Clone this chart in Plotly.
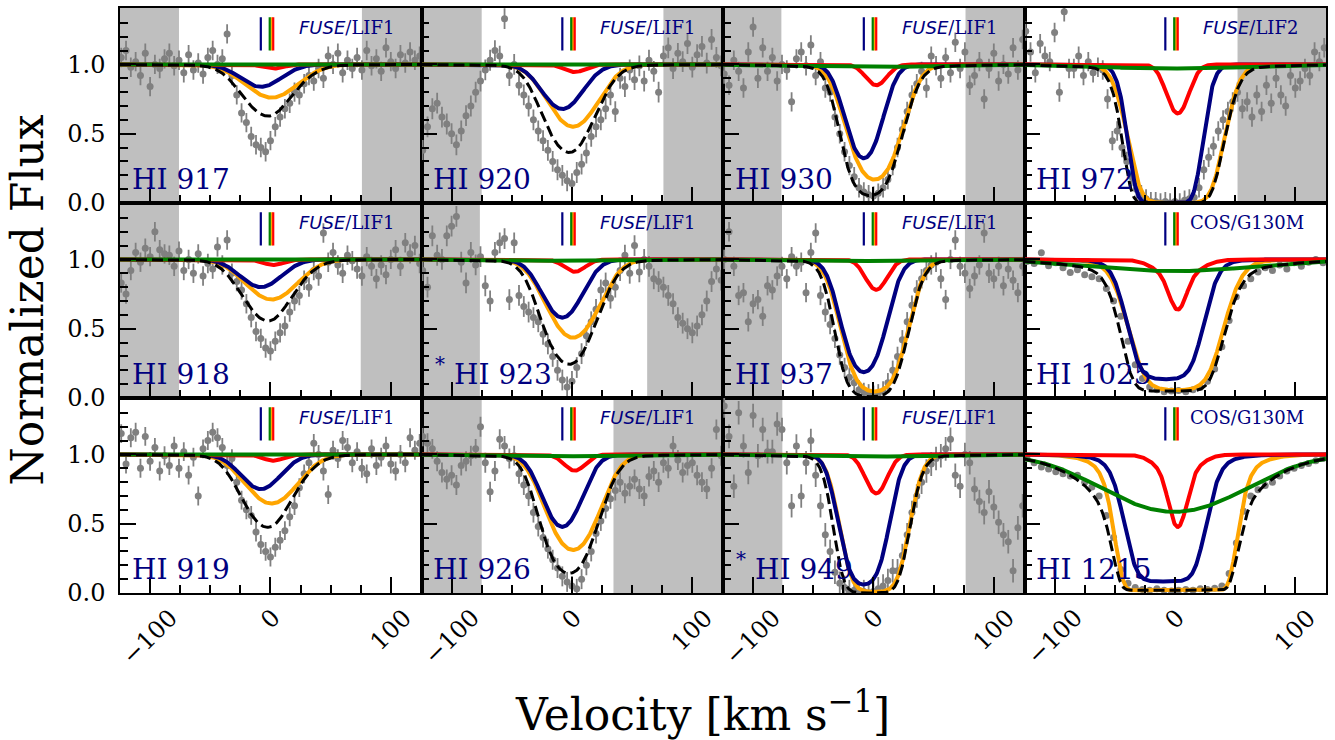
import numpy as np
import plotly.graph_objects as go
from plotly.subplots import make_subplots

# ---------------- panel metadata (row by row, 3 rows x 4 cols) ----------------
PANEL_LABELS = ["HI 917", "HI 920", "HI 930", "HI 972",
                "HI 918", "HI 923", "HI 937", "HI 1025",
                "HI 919", "HI 926", "HI 949", "HI 1215"]
PANEL_STAR = [0, 0, 0, 0, 0, 1, 0, 0, 0, 0, 1, 0]
PANEL_INSTR = ["FUSE/LIF1", "FUSE/LIF1", "FUSE/LIF1", "FUSE/LIF2",
               "FUSE/LIF1", "FUSE/LIF1", "FUSE/LIF1", "COS/G130M",
               "FUSE/LIF1", "FUSE/LIF1", "FUSE/LIF1", "COS/G130M"]
# excluded (shaded) velocity ranges
SHADE_LEFT_END = [-76, -75, -76.5, None, -76, -76.5, -76, None, None, -75, -75.7, None]
SHADE_RIGHT_START = [76, 76, 76.5, 52, 75, 62.5, 76, None, None, 34.5, 76.6, None]
FLUX_ERR = [0.07, 0.075, 0.07, 0.07, 0.07, 0.075, 0.07, 0.02, 0.068, 0.072, 0.085, 0.012]

# ---------------- velocity grids of the data ----------------
V_FUSE = list(range(-124, 125, 4))
V_COS = list(range(-123, 124, 6))

# ---------------- normalized flux data ----------------
FLUX_917 = [1.05, 1.10, 0.98, 1.02, 0.92, 1.08, 0.84, 1.00, 0.97, 1.04, 1.08, 0.99, 1.03, 0.94, 1.07, 0.96,
            1.01, 0.93, 1.05, 1.10, 1.00, 1.04, 1.22, 0.92, 0.78, 0.65, 0.58, 0.48, 0.42, 0.40, 0.37, 0.45,
            0.55, 0.62, 0.68, 0.72, 0.80, 0.78, 0.86, 0.92, 0.88, 0.97, 0.90, 1.06, 1.00, 1.08, 0.94, 1.03,
            0.97, 1.05, 0.96, 1.10, 0.99, 1.04, 0.95, 1.12, 1.02, 0.97, 1.07, 1.01, 1.09, 1.03, 1.06]
FLUX_918 = [0.83, 0.75, 0.92, 1.05, 0.98, 1.08, 1.02, 1.20, 1.07, 1.04, 1.03, 0.95, 1.06, 0.92, 1.00, 0.90,
            1.04, 0.88, 0.97, 0.93, 1.09, 0.96, 1.14, 0.90, 0.84, 0.78, 0.68, 0.58, 0.48, 0.43, 0.36, 0.34,
            0.41, 0.47, 0.52, 0.62, 0.70, 0.74, 0.85, 0.80, 0.92, 0.88, 1.19, 0.98, 1.05, 0.96, 0.90, 1.03,
            0.99, 0.93, 0.88, 1.02, 0.95, 0.86, 0.96, 0.89, 1.00, 1.07, 0.95, 1.12, 1.04, 1.10, 0.97]
FLUX_919 = [1.15, 0.93, 1.12, 1.16, 0.90, 1.13, 0.95, 1.05, 0.88, 0.99, 0.92, 1.06, 0.90, 1.02, 0.85, 0.98,
            0.70, 1.04, 1.10, 1.16, 1.12, 1.05, 0.92, 0.97, 0.80, 0.67, 0.60, 0.56, 0.44, 0.35, 0.30, 0.26,
            0.33, 0.38, 0.45, 0.55, 0.63, 0.76, 0.86, 0.94, 1.08, 1.00, 0.88, 0.71, 1.03, 0.97, 1.10, 1.05,
            0.94, 1.02, 0.90, 0.86, 1.04, 0.92, 0.98, 1.06, 0.93, 0.88, 1.00, 0.94, 1.12, 1.03, 1.08]
FLUX_920 = [0.38, 0.55, 0.68, 0.72, 0.62, 0.57, 0.50, 0.42, 0.52, 0.63, 0.70, 0.80, 0.88, 0.96, 1.03, 1.10,
            1.06, 1.33, 0.92, 1.00, 0.85, 0.78, 0.70, 0.60, 0.52, 0.45, 0.38, 0.30, 0.24, 0.20, 0.16, 0.14,
            0.22, 0.28, 0.36, 0.48, 0.55, 0.60, 0.68, 0.78, 0.66, 0.90, 0.84, 0.96, 0.89, 0.99, 0.88, 1.03,
            0.95, 0.80, 1.06, 1.12, 0.97, 1.08, 1.02, 1.15, 0.98, 1.07, 1.13, 1.01, 1.18, 1.05, 0.99]
FLUX_923 = [0.92, 0.80, 1.17, 1.03, 1.00, 1.17, 1.24, 1.31, 0.98, 0.83, 1.05, 0.96, 1.02, 0.81, 0.70, 1.05,
            1.12, 1.15, 0.71, 1.12, 0.74, 0.66, 0.62, 0.58, 0.55, 0.46, 0.39, 0.30, 0.20, 0.13, 0.08, 0.12,
            0.22, 0.32, 0.45, 0.55, 0.64, 0.78, 0.83, 0.72, 0.80, 0.92, 1.03, 0.90, 1.10, 0.91, 1.00, 0.95,
            0.86, 0.84, 0.80, 0.74, 0.68, 0.58, 0.54, 0.50, 0.47, 0.52, 0.60, 0.70, 0.84, 0.93, 0.85]
FLUX_926 = [1.13, 1.08, 1.04, 0.95, 0.87, 0.82, 0.85, 0.78, 0.92, 0.95, 0.99, 1.04, 1.20, 0.94, 0.73, 0.88,
            1.11, 1.06, 0.97, 0.99, 0.86, 0.78, 0.70, 0.58, 0.48, 0.40, 0.32, 0.24, 0.18, 0.12, 0.08, 0.05,
            0.03, 0.10, 0.20, 0.30, 0.43, 0.52, 0.61, 0.68, 0.74, 0.80, 0.72, 0.77, 0.82, 0.75, 0.70, 0.84,
            0.88, 0.80, 0.94, 0.90, 1.06, 0.96, 0.87, 0.92, 0.94, 0.85, 0.80, 0.75, 0.90, 1.18, 0.99]
FLUX_930 = [0.93, 0.85, 1.03, 0.95, 0.83, 1.09, 1.27, 0.90, 1.12, 0.95, 1.05, 0.88, 1.00, 0.96, 0.73, 1.04,
            1.09, 0.99, 1.14, 0.92, 1.02, 0.83, 0.80, 0.62, 0.50, 0.37, 0.27, 0.19, 0.11, 0.08, 0.06, 0.05,
            0.07, 0.11, 0.17, 0.27, 0.40, 0.53, 0.66, 0.78, 0.86, 0.95, 0.83, 1.06, 0.99, 0.90, 1.05, 0.94,
            1.16, 0.97, 1.09, 0.85, 0.92, 1.02, 0.75, 0.97, 1.08, 0.88, 1.00, 0.93, 1.12, 0.96, 1.18]
FLUX_937 = [1.00, 1.20, 0.95, 0.74, 0.76, 0.55, 0.68, 0.71, 0.59, 0.81, 0.78, 0.88, 0.95, 0.86, 1.02, 0.95,
            0.98, 0.76, 1.05, 1.19, 0.74, 0.62, 0.53, 0.43, 0.31, 0.22, 0.15, 0.11, 0.06, 0.04, 0.03, 0.02,
            0.03, 0.05, 0.11, 0.20, 0.30, 0.42, 0.55, 0.67, 0.78, 0.86, 0.92, 0.96, 0.98, 0.86, 0.71, 1.00,
            1.14, 0.95, 0.90, 0.79, 0.88, 0.96, 1.19, 0.90, 0.86, 0.95, 0.81, 0.93, 0.85, 0.76, 0.95]
FLUX_949 = [1.35, 1.13, 0.77, 1.30, 1.06, 0.87, 1.28, 0.99, 1.18, 1.02, 1.02, 1.22, 1.18, 0.94, 0.63, 1.06,
            0.70, 0.94, 1.10, 0.85, 0.63, 0.42, 0.30, 0.15, 0.07, 0.04, 0.01, 0.02, 0.00, 0.01, 0.00, 0.01,
            0.03, 0.05, 0.09, 0.16, 0.16, 0.27, 0.42, 0.58, 0.70, 0.80, 0.88, 0.93, 0.97, 0.99, 1.04, 1.11,
            0.85, 0.77, 1.00, 0.94, 0.75, 0.66, 0.58, 0.73, 0.62, 0.51, 0.42, 0.37, 0.16, 0.47, 0.63]
FLUX_972 = [1.24, 1.09, 0.94, 1.15, 1.06, 1.02, 1.23, 0.80, 1.38, 0.97, 0.97, 1.06, 0.92, 1.02, 0.94, 0.98,
            0.96, 0.75, 0.45, 0.52, 0.40, 0.30, 0.19, 0.10, 0.06, 0.03, 0.01, 0.01, 0.00, 0.01, 0.00, 0.01,
            0.00, 0.02, 0.03, 0.04, 0.11, 0.24, 0.33, 0.41, 0.52, 0.60, 0.66, 0.73, 0.80, 0.68, 0.73, 0.62,
            0.78, 0.66, 0.85, 0.72, 0.90, 0.78, 0.70, 0.92, 0.83, 0.88, 0.97, 0.92, 1.09, 1.02, 1.12]
FLUX_1025 = [0.985, 0.97, 1.048, 0.955, 0.975, 0.94, 0.905, 0.925, 0.89, 0.875, 0.86, 0.79, 0.70, 0.59,
             0.41, 0.24, 0.14, 0.08, 0.06, 0.045, 0.05, 0.055, 0.045, 0.06, 0.075, 0.12, 0.21, 0.37, 0.56,
             0.73, 0.81, 0.86, 0.91, 0.94, 0.92, 0.96, 0.93, 0.975, 0.95, 0.98, 1.00, 0.975]
FLUX_1215 = [0.97, 0.94, 0.91, 0.895, 0.875, 0.86, 0.845, 0.85, 0.80, 0.765, 0.70, 0.56, 0.40, 0.17,
             0.07, 0.04, 0.025, 0.02, 0.03, 0.02, 0.015, 0.02, 0.025, 0.02, 0.03, 0.025, 0.035, 0.05, 0.14,
             0.36, 0.59, 0.70, 0.745, 0.775, 0.80, 0.845, 0.88, 0.90, 0.92, 0.935, 0.955, 0.97]

PANEL_FLUX = [FLUX_917, FLUX_920, FLUX_930, FLUX_972,
              FLUX_918, FLUX_923, FLUX_937, FLUX_1025,
              FLUX_919, FLUX_926, FLUX_949, FLUX_1215]
PANEL_VEL = [V_FUSE, V_FUSE, V_FUSE, V_FUSE,
             V_FUSE, V_FUSE, V_FUSE, V_COS,
             V_FUSE, V_FUSE, V_FUSE, V_COS]

# ---------------- fitted absorption components (per panel) ----------------
COMP_V = {"blue": -8.0, "orange": 0.9, "red": 2.3, "green": -0.6}       # component velocities
COMP_COLOR = {"blue": "#000080", "orange": "#FFA500", "red": "#FF0000", "green": "#008000"}

#            917   920   930   972   918    923    937   1025  919    926   949   1215
BLUE_TAU = [0.177, 0.389, 1.13, 11.9, 0.223, 0.545, 1.68, 5.0, 0.288, 0.74, 2.8, 7.1]
BLUE_B = [23, 22, 17.5, 19, 23, 21, 19, 23, 22, 20, 18, 22.4]
BLUE_WING_TAU = [0, 0, 0, 0, 0, 0, 0, 0.05, 0, 0, 0, 0.15]
BLUE_WING_B = [45, 45, 45, 45, 45, 45, 45, 45, 45, 45, 45, 45]
BLUE_FLOOR = [0, 0, 0, 0, 0, 0, 0, 0.13, 0, 0, 0, 0.083]

ORANGE_TAU = [0.274, 0.598, 1.78, 8.3, 0.342, 0.832, 3.06, 4.9, 0.438, 1.17, 5.0, 70.0]
ORANGE_B = [29, 26, 23, 26, 28, 26, 23, 28.5, 28, 25, 21, 24]
ORANGE_WING_TAU = [0, 0, 0, 0, 0, 0, 0, 0.05, 0, 0, 0, 0.5]
ORANGE_WING_B = [55, 55, 55, 55, 55, 55, 55, 55, 55, 55, 55, 48]
ORANGE_FLOOR = [0, 0, 0, 0, 0, 0, 0, 0.05, 0, 0, 0, 0.02]

RED_TAU = [0.031, 0.057, 0.163, 0.437, 0.041, 0.094, 0.248, 0.30, 0.046, 0.125, 0.33, 0.55]
RED_B = [12, 12, 12, 12, 12, 12, 12, 9, 12, 12, 12, 9]
RED_WING_TAU = [0, 0, 0, 0, 0, 0, 0, 0.15, 0, 0, 0, 0.19]
RED_WING_B = [22, 22, 22, 22, 22, 22, 22, 22, 22, 22, 22, 20]
RED_FLOOR = [0] * 12

GREEN_TAU = [0.004, 0.008, 0.018, 0.03, 0.005, 0.010, 0.012, 0.088, 0.006, 0.013, 0.015, 0.535]
GREEN_B = [90, 90, 90, 90, 90, 90, 90, 95, 90, 90, 90, 75]
GREEN_WING_TAU = [0] * 12
GREEN_WING_B = [50] * 12
GREEN_FLOOR = [0] * 12

TOTAL_FLOOR = [0, 0, 0, 0, 0, 0, 0, 0.05, 0, 0, 0, 0.02]

PARAMS = {
    "blue": (BLUE_TAU, BLUE_B, BLUE_WING_TAU, BLUE_WING_B, BLUE_FLOOR),
    "orange": (ORANGE_TAU, ORANGE_B, ORANGE_WING_TAU, ORANGE_WING_B, ORANGE_FLOOR),
    "red": (RED_TAU, RED_B, RED_WING_TAU, RED_WING_B, RED_FLOOR),
    "green": (GREEN_TAU, GREEN_B, GREEN_WING_TAU, GREEN_WING_B, GREEN_FLOOR),
}

X_TICKS = [-100, 0, 100]
X_RANGE = [-125, 125.5]
Y_RANGE = [0, 1.407]

SERIF = "DejaVu Serif"
NAVY = "#000080"
GRAY = "#808080"

for fl, vv in zip(PANEL_FLUX, PANEL_VEL):
    assert len(fl) == len(vv), (len(fl), len(vv))

# ---------------- figure ----------------
fig = make_subplots(rows=3, cols=4, horizontal_spacing=0, vertical_spacing=0)
V_MODEL = np.arange(-125, 125.51, 0.5)

annotations = []
shapes = []

for p in range(12):
    r, c = p // 4 + 1, p % 4 + 1
    ax = p + 1
    xr = "x" if ax == 1 else f"x{ax}"
    yr = "y" if ax == 1 else f"y{ax}"

    # shaded excluded regions
    if SHADE_LEFT_END[p] is not None:
        shapes.append(dict(type="rect", xref=xr, yref=f"{yr} domain", x0=X_RANGE[0], x1=SHADE_LEFT_END[p],
                           y0=0, y1=1, fillcolor="#BFBFBF", line_width=0, layer="below"))
    if SHADE_RIGHT_START[p] is not None:
        shapes.append(dict(type="rect", xref=xr, yref=f"{yr} domain", x0=SHADE_RIGHT_START[p], x1=X_RANGE[1],
                           y0=0, y1=1, fillcolor="#BFBFBF", line_width=0, layer="below"))

    # data with error bars
    fig.add_trace(go.Scatter(
        x=PANEL_VEL[p], y=PANEL_FLUX[p], mode="markers",
        marker=dict(color=GRAY, size=7),
        error_y=dict(type="constant", value=FLUX_ERR[p], color=GRAY, thickness=1.8, width=0),
        showlegend=False, hoverinfo="skip"), row=r, col=c)

    # model components
    tau_total = np.zeros_like(V_MODEL)
    curves = {}
    for name in ["blue", "orange", "red", "green"]:
        t_main, b_main, t_w, b_w, floor = (a[p] for a in PARAMS[name])
        dv = V_MODEL - COMP_V[name]
        tau = t_main * np.exp(-(dv / b_main) ** 2) + t_w * np.exp(-(dv / b_w) ** 2)
        tau_total += tau
        curves[name] = floor + (1 - floor) * np.exp(-tau)
    for name in ["orange", "blue", "red", "green"]:
        fig.add_trace(go.Scatter(x=V_MODEL, y=curves[name], mode="lines",
                                 line=dict(color=COMP_COLOR[name], width=4),
                                 showlegend=False, hoverinfo="skip"), row=r, col=c)
    total = TOTAL_FLOOR[p] + (1 - TOTAL_FLOOR[p]) * np.exp(-tau_total)
    fig.add_trace(go.Scatter(x=V_MODEL, y=total, mode="lines",
                             line=dict(color="black", width=3, dash="11px,5px"),
                             showlegend=False, hoverinfo="skip"), row=r, col=c)

    # component velocity markers (orange mostly hidden between green and red)
    for name in ["orange", "blue", "green", "red"]:
        fig.add_trace(go.Scatter(x=[COMP_V[name], COMP_V[name]], y=[1.10, 1.34], mode="lines",
                                 line=dict(color=COMP_COLOR[name], width=2.2),
                                 showlegend=False, hoverinfo="skip"), row=r, col=c)

    # panel label
    annotations.append(dict(xref=xr, yref=yr, x=(-100 if PANEL_STAR[p] else -117), y=0.17,
                            text=PANEL_LABELS[p], showarrow=False, xanchor="left", yanchor="middle",
                            font=dict(family=SERIF, size=28, color=NAVY)))
    if PANEL_STAR[p]:
        annotations.append(dict(xref=xr, yref=yr, x=-110, y=0.245, text="*", showarrow=False,
                                xanchor="center", yanchor="middle",
                                font=dict(family=SERIF, size=20, color=NAVY)))
    # instrument label
    instr = PANEL_INSTR[p]
    if instr.startswith("FUSE"):
        txt = '<span style="font-family:DejaVu Sans"><i>FUSE</i></span>' + instr[4:]
        x0 = 22
    else:
        txt = instr
        x0 = 11
    annotations.append(dict(xref=xr, yref=yr, x=x0, y=1.265, text=txt, showarrow=False,
                            xanchor="left", yanchor="middle",
                            font=dict(family=SERIF, size=18, color=NAVY)))

    # x tick labels (bottom row), rotated and centred like the original
    if r == 3:
        for tv in X_TICKS:
            lab = ("\u2212" + str(abs(tv))) if tv < 0 else str(tv)
            annotations.append(dict(xref=xr, yref=f"{yr} domain", x=tv, y=0, yshift=-8,
                                    text=lab, showarrow=False, textangle=-45,
                                    xanchor="center", yanchor="top",
                                    font=dict(family=SERIF, size=24, color="black")))

# axis titles
annotations.append(dict(xref="paper", yref="paper", x=-0.077, y=0.5, text="Normalized Flux",
                        textangle=-90, showarrow=False, xanchor="center", yanchor="middle",
                        font=dict(family=SERIF, size=44, color="black")))
annotations.append(dict(xref="paper", yref="paper", x=0.4826, y=-0.2027,
                        text="Velocity [km s<sup>\u22121</sup>]", showarrow=False,
                        xanchor="center", yanchor="middle",
                        font=dict(family=SERIF, size=44, color="black")))

axis_common = dict(showline=True, mirror=True, linecolor="black", linewidth=1.5,
                   showgrid=False, zeroline=False, ticks="inside", ticklen=16, tickwidth=2,
                   tickcolor="black")
fig.update_xaxes(**axis_common, range=X_RANGE, tickmode="linear", tick0=0, dtick=100,
                 showticklabels=False,
                 minor=dict(ticks="inside", ticklen=8, tickwidth=1.5, tickcolor="black", dtick=25, tick0=0))
fig.update_yaxes(**axis_common, range=Y_RANGE, tickmode="linear", tick0=0, dtick=0.5,
                 tickformat=".1f", showticklabels=False,
                 minor=dict(ticks="inside", ticklen=8, tickwidth=1.5, tickcolor="black", dtick=0.1, tick0=0))
for r in range(1, 4):
    fig.update_yaxes(showticklabels=True, tickfont=dict(family=SERIF, size=24, color="black"),
                     ticklabelstandoff=8, row=r, col=1)

fig.update_layout(width=1335, height=740, margin=dict(l=120, r=9, t=6, b=147),
                  paper_bgcolor="white", plot_bgcolor="white",
                  font=dict(family=SERIF, color="black"),
                  annotations=annotations, shapes=shapes, showlegend=False)

fig.write_html("out.html", config={"displayModeBar": False},
               post_script="document.body.style.margin='0px';")
